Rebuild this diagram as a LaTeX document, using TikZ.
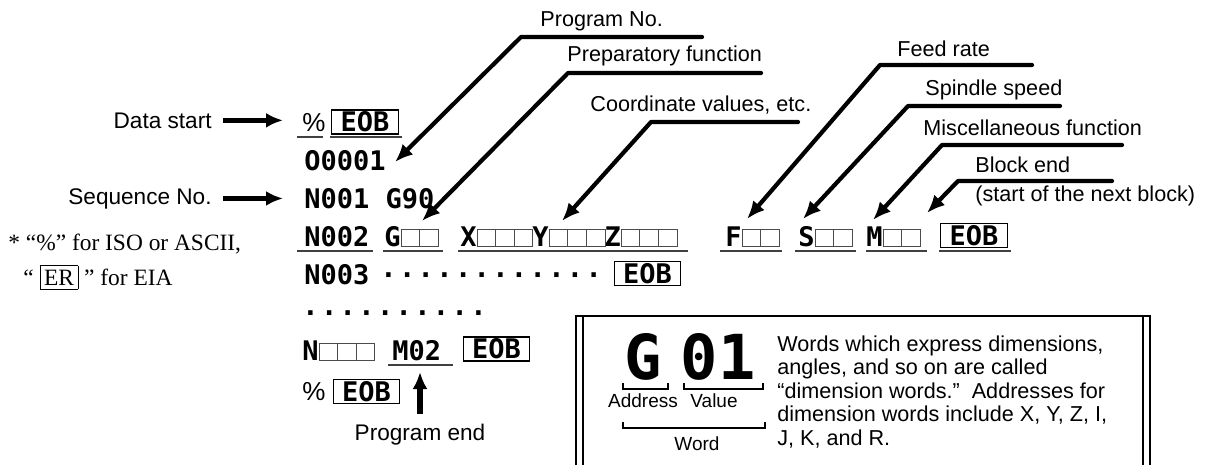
\documentclass[tikz,border=0pt]{standalone}
\usepackage{fontspec}
\setmainfont{Liberation Sans}
\newfontfamily\codefont{DejaVu Sans Mono}
\newfontfamily\notefont{Liberation Serif}
\usetikzlibrary{arrows.meta}

\newcommand{\blank}{{\color{black!70}\setlength{\fboxsep}{0pt}\setlength{\fboxrule}{0.5pt}\fbox{\rule{0pt}{8pt}\hspace{8.8pt}}}\kern-0.5pt}
\newcommand{\dotrun}[1]{\foreach \i in {1,...,#1}{·\kern1.2pt}}

\begin{document}
\begin{tikzpicture}[x=0.5pt, y=-0.5pt,
    lbl/.style={inner sep=0pt, font=\fontsize{10.8}{13}\selectfont},
    sidelbl/.style={inner sep=0pt, font=\fontsize{11.3}{13}\selectfont},
    codetext/.style={inner sep=0pt, anchor=base west, font=\codefont\bfseries\fontsize{13.5}{14}\selectfont},
    eob/.style={draw, line width=0.6pt, inner xsep=4.5pt, inner ysep=1.1pt, text height=9.8pt, text depth=0pt, font=\codefont\bfseries\fontsize{13.5}{14}\selectfont},
    uline/.style={line width=0.9pt, black!75},
    leader/.style={line width=2.1pt, line cap=round, line join=round, -{Latex[length=9pt,width=7.5pt]}},
    bigarrow/.style={line width=2.8pt, -{Latex[length=8.5pt,width=7.5pt]}},
    boxedge/.style={line width=1.4pt}]
    \useasboundingbox (0,0) rectangle (1225,465);

    % Labels on the left
    \node[sidelbl, anchor=base east] (ds) at (212,128) {Data start};
    \node[sidelbl, anchor=base east] (sq) at (212,204) {Sequence No.};

    % Program lines
    \node[codetext, font=\fontsize{13}{14}\selectfont] (pct0) at (302,132) {\%};
    \node[eob] (eob0) at (365,122) {EOB};
    \node[codetext] (o1) at (304,170) {O0001};
    \node[codetext] (n001) at (304,208) {N001 G90};
    \node[codetext] (n002) at (304,246) {N002};
    \node[codetext] (g2) at (384,246) {G\blank\blank};
    \node[codetext] (xyz2) at (460,246) {X\blank\blank\blank Y\blank\blank\blank Z\blank\blank\blank};
    \node[codetext] (f2) at (725,246) {F\blank\blank};
    \node[codetext] (s2) at (798,246) {S\blank\blank};
    \node[codetext] (m2) at (866,246) {M\blank\blank};
    \node[eob] (eob3) at (974,235.5) {EOB};
    \node[codetext] (n003) at (304,284) {N003};
    \node[codetext] (dots4) at (380,284) {\dotrun{12}};
    \node[eob] (eob4) at (647.5,273.5) {EOB};
    \node[codetext] (dots5) at (302,322) {\dotrun{10}};
    \node[codetext] (n6) at (302,360) {N\blank\blank\blank};
    \node[codetext] (m02) at (392,360) {M02};
    \node[eob] (eob6) at (496.5,349) {EOB};
    \node[codetext, font=\fontsize{13}{14}\selectfont] (pct7) at (302,400) {\%};
    \node[eob] (eob7) at (366.5,391.5) {EOB};

    % Underlines
    \draw[uline] (297,137) -- (323,137);
    \draw[uline] (330,137) -- (402,137);
    \draw[uline] (297,251) -- (373,251);
    \draw[uline] (383,251) -- (443,251);
    \draw[uline] (458,251) -- (688,251);
    \draw[uline] (720,251) -- (782,251);
    \draw[uline] (795,251) -- (856,251);
    \draw[uline] (866,251) -- (927,251);
    \draw[uline] (939,251) -- (1011,251);
    \draw[uline] (388,365) -- (453,365);

    % Arrows from the left
    \draw[bigarrow, shorten <=5.5pt, shorten >=9.5pt] (ds.east) -- (ds.east -| pct0.west);
    \draw[bigarrow, shorten <=5.5pt, shorten >=10.5pt] (sq.east) -- (sq.east -| n001.west);

    % Labels on top with leader lines
    \node[lbl, anchor=base west] (lpno) at (540,27) {Program No.};
    \coordinate (pnoR) at (702,37);
    \coordinate (pnoL) at (521,37);
    \coordinate (pnoT) at (395,162);
    \draw[leader] (pnoR) -- (pnoL) -- (pnoT);

    \node[lbl, anchor=base west] (lprep) at (567,62) {Preparatory function};
    \coordinate (prepR) at (761,73);
    \coordinate (prepL) at (568,73);
    \coordinate (prepT) at (422,221);
    \draw[leader] (prepR) -- (prepL) -- (prepT);

    \node[lbl, anchor=base west] (lcoord) at (590,112) {Coordinate values, etc.};
    \coordinate (coordR) at (798,122);
    \coordinate (coordL) at (651,122);
    \coordinate (coordT) at (562,221);
    \draw[leader] (coordR) -- (coordL) -- (coordT);

    \node[lbl, anchor=base west] (lfeed) at (897,57) {Feed rate};
    \coordinate (feedR) at (1032,65);
    \coordinate (feedL) at (880,65);
    \coordinate (feedT) at (747,219);
    \draw[leader] (feedR) -- (feedL) -- (feedT);

    \node[lbl, anchor=base west] (lspin) at (925,96) {Spindle speed};
    \coordinate (spinR) at (1060,106);
    \coordinate (spinL) at (908,106);
    \coordinate (spinT) at (803,219);
    \draw[leader] (spinR) -- (spinL) -- (spinT);

    \node[lbl, anchor=base west] (lmisc) at (923,135) {Miscellaneous function};
    \coordinate (miscR) at (1122,145);
    \coordinate (miscL) at (942,145);
    \coordinate (miscT) at (873,220);
    \draw[leader] (miscR) -- (miscL) -- (miscT);

    \node[lbl, anchor=base west] (lblock) at (975,172) {Block end};
    \node[lbl, anchor=base west] (lblock2) at (975,201) {(start of the next block)};
    \coordinate (blockR) at (1112,181);
    \coordinate (blockL) at (958,181);
    \coordinate (blockT) at (927,213);
    \draw[leader] (blockR) -- (blockL) -- (blockT);

    % Program end
    \node[sidelbl] (pend) at (420,435) {Program end};
    \coordinate (pendT) at (420,372);
    \draw[bigarrow, shorten <=5pt] (pend.north) -- (pend.north |- pendT);

    % Note
    \node[anchor=base west, inner sep=0pt, font=\notefont\fontsize{11.7}{13}\selectfont] (note1) at (8,250) {* “\%” for ISO or ASCII,};
    \node[anchor=base west, inner sep=0pt, font=\notefont\fontsize{11.7}{13}\selectfont] (note2) at (23,285) {“\ {\setlength{\fboxsep}{1.8pt}\fbox{ER}}\ ” for EIA};

    % Box with the word example
    \draw[boxedge] (576,465) -- (576,316) -- (1150,316) -- (1150,465);
    \draw[line width=0.7pt] (583,316) -- (583,465) (1143,316) -- (1143,465);
    \node[inner sep=0pt, font=\codefont\bfseries\fontsize{31}{31}\selectfont] (bigG) at (643,357) {G};
    \node[inner sep=0pt, font=\codefont\bfseries\fontsize{31}{31}\selectfont] (big01) at (718,357) {01};
    \draw[line width=0.6pt] (623,383) |- (668,389) -- (668,383);
    \draw[line width=0.6pt] (684,383) |- (763,389) -- (763,383);
    \draw[line width=0.6pt] (623,422) |- (765,428) -- (765,422);
    \node[lbl, anchor=base, font=\fontsize{9.5}{11}\selectfont] (laddr) at (643,407) {Address};
    \node[lbl, anchor=base, font=\fontsize{9.5}{11}\selectfont] (lval) at (714,407) {Value};
    \node[lbl, anchor=base, font=\fontsize{9.5}{11}\selectfont] (lword) at (697,450) {Word};
    \node[lbl, anchor=north west, align=left, font=\fontsize{10.8}{11.75}\selectfont] (desc) at (777,335) {Words which express dimensions,\\angles, and so on are called\\“dimension words.”\ \ Addresses for\\dimension words include X, Y, Z, I,\\J, K, and R.};
\end{tikzpicture}
\end{document}
